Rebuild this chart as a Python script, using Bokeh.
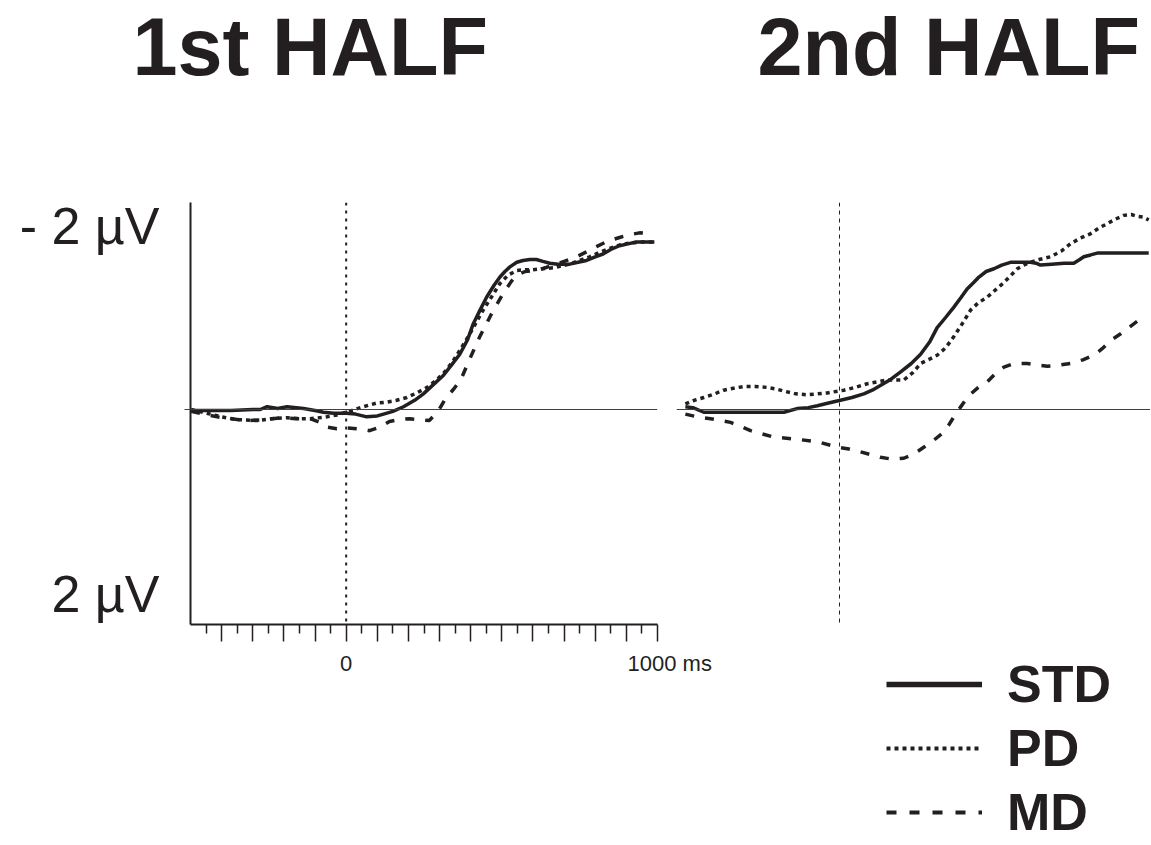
from bokeh.plotting import figure
from bokeh.layouts import column, row
from bokeh.models import Range1d, Span, FixedTicker, Legend, LegendItem
from bokeh.embed import file_html
from bokeh.resources import INLINE
from bokeh.core.properties import value

# ---------------- data (ms, µV; negative up) ----------------
titles = ["1st HALF", "2nd HALF"]
series_names = ["STD", "PD", "MD"]
y_tick_values = [-2, 2]
y_tick_labels = ["- 2 µV", "2 µV"]
x_label_values = [0, 1000]
x_label_texts = ["0", "1000 ms"]

left_std_ms = [-498, -430, -370, -300, -276, -254, -220, -190, -160, -137, -100, -73, -40, 0, 30,
               66, 100, 120, 150, 184, 220, 248, 280, 312, 340, 365, 390, 408, 430, 451, 475, 494,
               510, 526, 548, 568, 590, 611, 632, 654, 680, 718, 745, 772, 800, 825, 850, 878, 905,
               932, 960, 990]
left_std_uv = [0.01, 0.01, 0.01, 0.0, 0.0, -0.03, -0.01, -0.03, -0.02, -0.01, 0.01, 0.03, 0.04, 0.04,
               0.05, 0.08, 0.07, 0.05, 0.02, -0.03, -0.1, -0.17, -0.27, -0.37, -0.49, -0.6, -0.76,
               -0.93, -1.08, -1.22, -1.35, -1.44, -1.5, -1.55, -1.6, -1.62, -1.63, -1.63, -1.61,
               -1.59, -1.58, -1.58, -1.6, -1.62, -1.66, -1.69, -1.74, -1.78, -1.8, -1.82, -1.82, -1.82]

left_pd_ms = [-498, -436, -400, -350, -286, -240, -190, -150, -115, -62, -30, 0, 55, 98, 130, 162,
              195, 226, 260, 290, 320, 344, 370, 397, 420, 440, 470, 494, 520, 547, 575, 600, 630,
              665, 690, 718, 750, 782, 815, 846, 880, 910, 950, 985]
left_pd_uv = [0.0, 0.05, 0.08, 0.11, 0.12, 0.1, 0.09, 0.1, 0.1, 0.08, 0.06, 0.03, -0.03, -0.07, -0.08,
              -0.1, -0.13, -0.18, -0.24, -0.32, -0.42, -0.53, -0.67, -0.82, -0.96, -1.08, -1.24,
              -1.37, -1.46, -1.51, -1.52, -1.52, -1.53, -1.54, -1.56, -1.58, -1.62, -1.66, -1.71,
              -1.75, -1.79, -1.81, -1.82, -1.82]

left_md_ms = [-498, -460, -414, -370, -318, -260, -208, -160, -115, -85, -64, -30, 0, 40, 75, 110,
              139, 170, 203, 235, 267, 295, 321, 345, 369, 397, 429, 467, 504, 530, 547, 575, 600,
              630, 665, 700, 740, 770, 804, 840, 878, 910, 942, 985]
left_md_uv = [0.02, 0.05, 0.08, 0.1, 0.12, 0.11, 0.09, 0.1, 0.1, 0.14, 0.19, 0.21, 0.2, 0.21, 0.23,
              0.19, 0.13, 0.11, 0.1, 0.11, 0.12, 0.02, -0.13, -0.22, -0.33, -0.55, -0.79, -1.04,
              -1.26, -1.39, -1.46, -1.5, -1.51, -1.53, -1.57, -1.61, -1.66, -1.71, -1.77, -1.83,
              -1.87, -1.9, -1.92, -1.91]

right_std_ms = [-494, -470, -435, -380, -300, -230, -178, -136, -100, -71, -35, 3, 40, 78, 105, 131,
                165, 196, 230, 260, 290, 313, 340, 366, 390, 409, 430, 447, 470, 495, 520, 548, 580,
                612, 630, 644, 680, 720, 751, 770, 783, 805, 826, 870, 920, 991]
right_std_uv = [-0.03, -0.02, 0.03, 0.03, 0.03, 0.03, 0.03, -0.01, -0.02, -0.04, -0.07, -0.1, -0.13,
                -0.17, -0.21, -0.26, -0.33, -0.41, -0.5, -0.6, -0.74, -0.89, -1.0, -1.11, -1.22,
                -1.31, -1.38, -1.44, -1.5, -1.53, -1.57, -1.6, -1.6, -1.6, -1.59, -1.57, -1.58,
                -1.59, -1.59, -1.63, -1.66, -1.68, -1.7, -1.7, -1.7, -1.7]

right_pd_ms = [-494, -465, -435, -400, -371, -340, -307, -270, -232, -200, -178, -140, -104, -70, -39,
               14, 50, 89, 120, 153, 180, 206, 235, 260, 290, 313, 340, 366, 395, 420, 445, 473, 500,
               527, 550, 570, 590, 612, 640, 676, 710, 740, 770, 804, 830, 858, 885, 911, 935, 954,
               975, 991]
right_pd_uv = [-0.06, -0.1, -0.13, -0.17, -0.21, -0.23, -0.25, -0.25, -0.24, -0.22, -0.2, -0.17,
               -0.16, -0.17, -0.18, -0.21, -0.24, -0.28, -0.3, -0.32, -0.32, -0.32, -0.4, -0.5,
               -0.55, -0.59, -0.67, -0.79, -0.94, -1.08, -1.16, -1.22, -1.3, -1.38, -1.46, -1.53,
               -1.57, -1.6, -1.63, -1.66, -1.72, -1.8, -1.86, -1.91, -1.97, -2.02, -2.07, -2.11,
               -2.12, -2.1, -2.09, -2.06]

right_md_ms = [-494, -455, -413, -349, -285, -211, -146, -71, -7, 30, 67, 100, 131, 170, 206, 240,
               270, 300, 329, 350, 372, 414, 445, 473, 500, 527, 560, 602, 640, 666, 700, 740, 780,
               815, 845, 869, 900, 927, 955, 981]
right_md_uv = [0.05, 0.08, 0.1, 0.14, 0.23, 0.3, 0.32, 0.35, 0.41, 0.43, 0.46, 0.49, 0.52, 0.54, 0.53,
               0.48, 0.41, 0.34, 0.26, 0.17, 0.05, -0.15, -0.24, -0.3, -0.39, -0.46, -0.5, -0.5,
               -0.48, -0.47, -0.48, -0.5, -0.54, -0.59, -0.67, -0.75, -0.82, -0.89, -0.96, -1.02]

# ---------------- layout geometry (page pixels) & styles ----------------
INK = "#231f20"
ZERO = "#404040"
FONT = value("Liberation Sans")
W, H = 1150, 844
TITLE_H = 110
MID_BOTTOM = 651
SPLIT_X = 670
FRAME_TOP, FRAME_BOTTOM = 202, 624      # both panels share the same frame rows
PX_PER_MS = 467 / 1500.0
PX_PER_UV = 92.0
ZERO_PY = 409.0
styles = {
    "STD": dict(line_width=3.5, line_dash="solid"),
    "PD": dict(line_width=3.5, line_dash="4 4"),
    "MD": dict(line_width=3.5, line_dash="9 11"),
}
legend_styles = {
    "STD": dict(line_width=5.5, line_dash="solid"),
    "PD": dict(line_width=4, line_dash="4 4"),
    "MD": dict(line_width=4, line_dash="10 13"),
}


def yr(top_px, bottom_px):
    return Range1d((bottom_px - ZERO_PY) / PX_PER_UV, (top_px - ZERO_PY) / PX_PER_UV)


def base_fig(width, height, **kw):
    f = figure(width=width, height=height, output_backend="svg", toolbar_location=None,
               title=None, outline_line_color=None, **kw)
    f.grid.visible = False
    return f


# ---------------- title strip ----------------
tf = base_fig(W, TITLE_H, x_range=Range1d(0, W), y_range=Range1d(TITLE_H, 0), min_border=0,
              x_axis_type=None, y_axis_type=None)
tf.text(x=[132, 757], y=[46, 46], text=titles, text_font=FONT, text_font_style="bold",
        text_font_size="81px", text_align="left", text_baseline="middle", text_color=INK)

# ---------------- left panel ----------------
lf = base_fig(SPLIT_X, MID_BOTTOM - TITLE_H, x_range=Range1d(-500, 1000),
              y_range=yr(FRAME_TOP, FRAME_BOTTOM),
              min_border_left=190, min_border_right=SPLIT_X - 657,
              min_border_top=FRAME_TOP - TITLE_H, min_border_bottom=MID_BOTTOM - FRAME_BOTTOM)

xa = lf.xaxis[0]
xticks = list(range(-400, 1001, 100))
xa.ticker = FixedTicker(ticks=xticks, minor_ticks=list(range(-450, 1000, 100)))
xa.major_label_overrides = {t: "" for t in xticks}
xa.major_label_text_font_size = "0px"
xa.major_label_standoff = 0
xa.axis_label = None
xa.axis_label_standoff = 0
xa.major_tick_in = 0
xa.major_tick_out = 17
xa.minor_tick_in = 0
xa.minor_tick_out = 9
xa.axis_line_width = 2
xa.axis_line_color = INK
xa.major_tick_line_color = INK
xa.minor_tick_line_color = INK
xa.major_tick_line_width = 1.5
xa.minor_tick_line_width = 1.5

ya = lf.yaxis[0]
ya.ticker = FixedTicker(ticks=y_tick_values, minor_ticks=[0])
ya.major_label_overrides = {v: t for v, t in zip(y_tick_values, y_tick_labels)}
ya.major_tick_in = 0
ya.major_tick_out = 0
ya.minor_tick_in = 0
ya.minor_tick_out = 6
ya.minor_tick_line_color = ZERO
ya.minor_tick_line_width = 1
ya.axis_line_width = 2
ya.axis_line_color = INK
ya.major_label_standoff = 25
ya.major_label_text_font = "Liberation Sans"
ya.major_label_text_font_size = "52px"
ya.major_label_text_color = INK

lf.add_layout(Span(location=0, dimension="width", line_color=ZERO, line_width=1))
lf.add_layout(Span(location=0, dimension="height", line_color=INK, line_width=2, line_dash="3 5"))

for ms, uv, nm in [(left_md_ms, left_md_uv, "MD"), (left_pd_ms, left_pd_uv, "PD"),
                   (left_std_ms, left_std_uv, "STD")]:
    lf.line(ms, uv, line_color=INK, **styles[nm])

# ---------------- right panel ----------------
r_left_px, r_zero_px = 676, 683 + 500 * 0.312
rf = base_fig(W - SPLIT_X, MID_BOTTOM - TITLE_H,
              x_range=Range1d((r_left_px - r_zero_px) / 0.312, (W - r_zero_px) / 0.312),
              y_range=yr(FRAME_TOP, FRAME_BOTTOM),
              min_border_left=r_left_px - SPLIT_X, min_border_right=0,
              min_border_top=FRAME_TOP - TITLE_H, min_border_bottom=MID_BOTTOM - FRAME_BOTTOM,
              x_axis_type=None, y_axis_type=None)
rf.add_layout(Span(location=0, dimension="width", line_color=ZERO, line_width=1))
rf.add_layout(Span(location=0, dimension="height", line_color=INK, line_width=1, line_dash="4 4"))

right_series = {"STD": (right_std_ms, right_std_uv), "PD": (right_pd_ms, right_pd_uv),
                "MD": (right_md_ms, right_md_uv)}
for nm in ["MD", "PD", "STD"]:
    ms, uv = right_series[nm]
    rf.line(ms, uv, line_color=INK, **styles[nm])

# ---------------- bottom strip: x tick labels + legend ----------------
b_start = -500 - 190 / PX_PER_MS
bf = base_fig(W, H - MID_BOTTOM, x_range=Range1d(b_start, b_start + W / PX_PER_MS),
              y_range=Range1d(H, MID_BOTTOM), min_border=0,
              x_axis_type=None, y_axis_type=None)
bf.text(x=[x_label_values[0]], y=[663], text=[x_label_texts[0]], text_font=FONT,
        text_font_size="22px", text_align="center", text_baseline="middle", text_color=INK)
bf.text(x=[x_label_values[1]], y=[663], text=[x_label_texts[1]], text_font=FONT,
        text_font_size="22px", text_align="left", text_baseline="middle", text_color=INK,
        x_offset=-30)

# legend keys: hidden copies of the right-panel series (only their legend glyphs show)
lr = {}
for nm in series_names:
    ms, uv = right_series[nm]
    lr[nm] = bf.line(ms, uv, line_color=INK, visible=False, **legend_styles[nm])
legend = Legend(items=[LegendItem(label=n, renderers=[lr[n]]) for n in series_names],
                location=(886, 2), orientation="vertical",
                glyph_width=96, glyph_height=58, label_height=58, label_standoff=25,
                spacing=4, padding=0, margin=0, border_line_color=None,
                background_fill_alpha=0, inactive_fill_alpha=0,
                label_text_font="Liberation Sans",
                label_text_font_size="52px", label_text_font_style="bold",
                label_text_color=INK)
bf.add_layout(legend)

layout = column(tf, row(lf, rf), bf)
open("out.html", "w").write(file_html(layout, INLINE))
